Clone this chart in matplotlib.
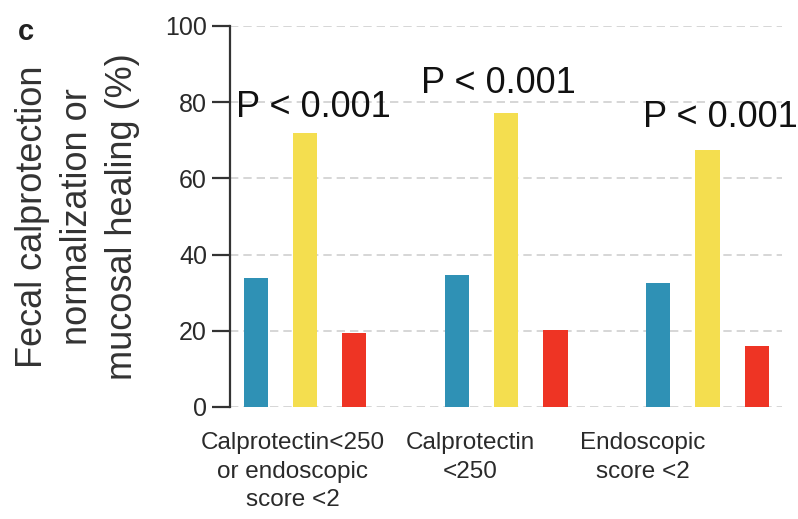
import numpy as np
import matplotlib.pyplot as plt
import matplotlib

matplotlib.rcParams['font.family'] = ['Liberation Sans', 'DejaVu Sans']

# data
groups = ["Calprotectin<250\nor endoscopic\nscore <2", "Calprotectin\n<250", "Endoscopic\nscore <2"]
blue_vals = [33.9, 34.6, 32.5]
yellow_vals = [71.9, 77.2, 67.5]
red_vals = [19.4, 20.2, 16.0]
p_labels = ["P < 0.001", "P < 0.001", "P < 0.001"]
yticks = [0, 20, 40, 60, 80, 100]

COLORS = ["#2F91B5", "#F4DE4F", "#EE3424"]

fig = plt.figure(figsize=(7.98, 5.19), dpi=100)
ax = fig.add_axes([0.288, 0.216, 0.692, 0.734])

x = np.arange(len(groups))
off = 0.245
w = 0.12
ax.bar(x - off, blue_vals, w, color=COLORS[0], zorder=3)
ax.bar(x, yellow_vals, w, color=COLORS[1], zorder=3)
ax.bar(x + off, red_vals, w, color=COLORS[2], zorder=3)

ax.set_xlim(-0.373, 2.37)
ax.set_ylim(0, 100)
ax.set_yticks(yticks)
ax.yaxis.grid(True, linestyle=(0, (5, 3)), color="#cfcfcf", linewidth=1.2, zorder=0)
ax.set_axisbelow(True)

for s in ["top", "right", "bottom"]:
    ax.spines[s].set_visible(False)
ax.spines["left"].set_color("#333333")
ax.spines["left"].set_linewidth(1.6)
ax.tick_params(axis="y", length=13, width=1.6, color="#333333", pad=3.5,
               labelsize=18, labelcolor="#2a2a2a")

# category labels sit a bit left of the group centres
ax.set_xticks([-0.06, 0.82, 1.68])
ax.set_xticklabels(groups, fontsize=17.5, color="#2a2a2a", linespacing=1.4)
ax.tick_params(axis="x", length=0, pad=18)

ax.set_ylabel("Fecal calprotection\nnormalization or\nmucosal healing (%)",
              fontsize=26, color="#333333", linespacing=1.38, labelpad=18)

# P-values
p_pos = [(0.042, 76.1), (0.963, 82.4), (2.065, 73.5)]
for (px, py), lab in zip(p_pos, p_labels):
    ax.text(px, py, lab, ha="center", va="baseline", fontsize=26, color="#111111",
            zorder=5, clip_on=False)

fig.text(0.022, 0.965, "c", fontsize=21, fontweight="bold", color="#222222",
         ha="left", va="top")

fig.savefig("out.png", dpi=100)
